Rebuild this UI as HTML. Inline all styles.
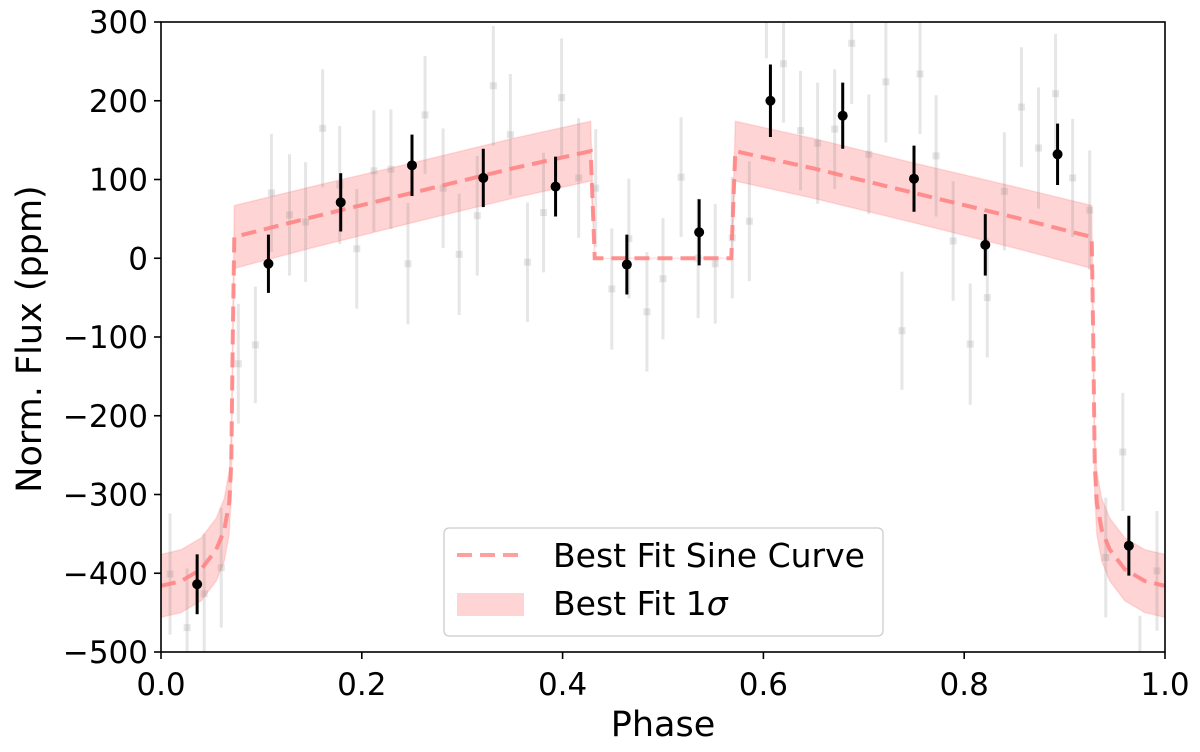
<!DOCTYPE html>
<html><head><meta charset="utf-8"><style>
body{margin:0;background:#fff;}
svg{display:block;font-family:"DejaVu Sans","Liberation Sans",sans-serif;}
</style></head><body>
<svg id="chart" width="1200" height="752" viewBox="0 0 1200 752" xmlns="http://www.w3.org/2000/svg">
<g id="band"></g>
<g id="grey"></g>
<g id="model"></g>
<g id="binned"></g>
<g id="axes"></g>
<g id="legend">
  <rect x="444" y="528" width="439" height="108" rx="5" fill="#fff" fill-opacity="0.8" stroke="#ccc" stroke-width="1.3"/>
  <line x1="457" y1="555" x2="524" y2="555" stroke="#ff8080" stroke-opacity="0.75" stroke-width="4" stroke-dasharray="15,8"/>
  <text x="553" y="567" font-size="33">Best Fit Sine Curve</text>
  <rect x="457" y="593" width="67" height="23" fill="#ff0000" fill-opacity="0.17"/>
  <text x="553" y="615" font-size="33">Best Fit 1<tspan font-style="italic">σ</tspan></text>
</g>
</svg>
<script>
// grey (unbinned) data
const greyPhase=[0.009,0.026,0.043,0.060,0.077,0.094,0.110,0.128,0.144,0.161,0.178,0.195,0.212,0.229,0.246,0.263,0.281,0.297,0.315,0.331,0.348,0.365,0.381,0.399,0.416,0.433,0.449,0.466,0.484,0.500,0.518,0.535,0.552,0.569,0.586,0.603,0.620,0.637,0.654,0.671,0.688,0.705,0.722,0.738,0.756,0.772,0.789,0.806,0.823,0.840,0.857,0.874,0.891,0.908,0.925,0.941,0.958,0.975,0.992];
const greyFlux=[-401,-469,-426,-393,-134,-110,83,55,46,165,93,12,111,113,-7,182,89,5,54,219,157,-5,58,204,102,89,-39,25,-68,-26,103,0,-7,26,47,330,247,162,146,164,273,132,224,-92,234,130,22,-109,-50,85,192,140,209,102,61,-380,-246,-530,-397];
const greyErr=[77,75,76,76,76,74,75,77,76,75,75,76,77,76,77,75,76,77,76,76,77,76,76,75,76,75,77,76,76,77,76,76,76,77,76,76,75,76,77,76,77,76,77,75,76,77,76,77,76,75,76,77,76,75,76,76,75,76,76];
// binned data
const binPhase=[0.036,0.107,0.179,0.250,0.321,0.393,0.464,0.536,0.607,0.679,0.750,0.821,0.893,0.964];
const binFlux=[-414,-7,71,118,102,91,-8,33,200,181,101,17,132,-365];
const binErr=[38,37,37,39,37,38,38,42,46,42,42,39,39,38];
// model curve
const modelPhase=[0,0.02,0.04,0.055,0.063,0.068,0.070,0.0715,0.073,0.15,0.25,0.35,0.428,0.432,0.568,0.572,0.65,0.75,0.85,0.927,0.9285,0.930,0.932,0.937,0.945,0.96,0.98,1.0];
const modelFlux=[-416,-410,-395,-370,-345,-310,-260,-100,27,52,83,114,136,0,0,136,114,83,52,27,-100,-260,-310,-345,-370,-395,-410,-416];
const modelSigma=[40,40,40,40,40,40,40,40,40,39,38,38,38,0,0,38,38,38,39,40,40,40,40,40,40,40,40,40];
const xTicks=[0,0.2,0.4,0.6,0.8,1.0];
const xTickLabels=["0.0","0.2","0.4","0.6","0.8","1.0"];
const yTicks=[300,200,100,0,-100,-200,-300,-400,-500];
const yTickLabels=["300","200","100","0","\u2212100","\u2212200","\u2212300","\u2212400","\u2212500"];

const NS="http://www.w3.org/2000/svg";
const X0=161,X1=1165,Y0=22,Y1=652;
function xs(p){return X0+(X1-X0)*p;}
function ys(v){return Y1-(v+500)/800*(Y1-Y0);}
function mk(tag,attrs,parent){const e=document.createElementNS(NS,tag);for(const k in attrs)e.setAttribute(k,attrs[k]);parent.appendChild(e);return e;}

const defs=mk('defs',{},document.getElementById('chart'));
const cp=mk('clipPath',{id:'clip'},defs);
mk('rect',{x:X0,y:Y0,width:X1-X0,height:Y1-Y0},cp);

const bandG=document.getElementById('band');bandG.setAttribute('clip-path','url(#clip)');
const bandTop=modelPhase.map((p,i)=>xs(p)+','+ys(modelFlux[i]+modelSigma[i]));
const bandBot=modelPhase.map((p,i)=>xs(p)+','+ys(modelFlux[i]-modelSigma[i])).reverse();
const band=mk('polygon',{points:bandTop.concat(bandBot).join(' '),fill:'#ff0000','fill-opacity':0.17,stroke:'#ff0000','stroke-opacity':0.1,'stroke-width':1.5},bandG);



const gG=document.getElementById('grey');gG.setAttribute('clip-path','url(#clip)');
greyPhase.forEach((p,i)=>{
  const x=xs(p),y=ys(greyFlux[i]);
  const l=mk('line',{x1:x,x2:x,y1:ys(greyFlux[i]+greyErr[i]),y2:ys(greyFlux[i]-greyErr[i]),stroke:'#808080','stroke-opacity':0.2,'stroke-width':3},gG);
  
  
  const r=mk('rect',{x:x-3.5,y:y-3.5,width:7,height:7,fill:'#808080','fill-opacity':0.2},gG);
  
  
});

const mG=document.getElementById('model');
const ml=mk('polyline',{points:modelPhase.map((p,i)=>xs(p)+','+ys(modelFlux[i])).join(' '),fill:'none',stroke:'#ff8080','stroke-opacity':0.85,'stroke-width':4,'stroke-dasharray':'15,8'},mG);



const bG=document.getElementById('binned');
binPhase.forEach((p,i)=>{
  const x=xs(p);
  const l=mk('line',{x1:x,x2:x,y1:ys(binFlux[i]+binErr[i]),y2:ys(binFlux[i]-binErr[i]),stroke:'#000','stroke-width':3},bG);
  
  
  const c=mk('circle',{cx:x,cy:ys(binFlux[i]),r:5,fill:'#000'},bG);
  
  
});

const aG=document.getElementById('axes');
const fr=mk('rect',{x:X0,y:Y0,width:X1-X0,height:Y1-Y0,fill:'none',stroke:'#000','stroke-width':1.6},aG);


xTicks.forEach((t,i)=>{
  const x=xs(t);
  mk('line',{x1:x,x2:x,y1:Y1,y2:Y1+7,stroke:'#000','stroke-width':1.6},aG);
  const tx=mk('text',{x:x,y:695,'font-size':31,'text-anchor':'middle'},aG);
  tx.textContent=xTickLabels[i];
  
  
});
yTicks.forEach((t,i)=>{
  const y=ys(t);
  mk('line',{x1:X0-7,x2:X0,y1:y,y2:y,stroke:'#000','stroke-width':1.6},aG);
  const tx=mk('text',{x:X0-13,y:y+11,'font-size':31,'text-anchor':'end'},aG);
  tx.textContent=yTickLabels[i];
  
  
});
const xl=mk('text',{x:663,y:736,'font-size':35,'text-anchor':'middle'},aG);
xl.textContent='Phase';


const yl=mk('text',{x:0,y:0,'font-size':35,'text-anchor':'middle',transform:'translate(41,339) rotate(-90)'},aG);
yl.textContent='Norm. Flux (ppm)';


</script>
</body></html>
